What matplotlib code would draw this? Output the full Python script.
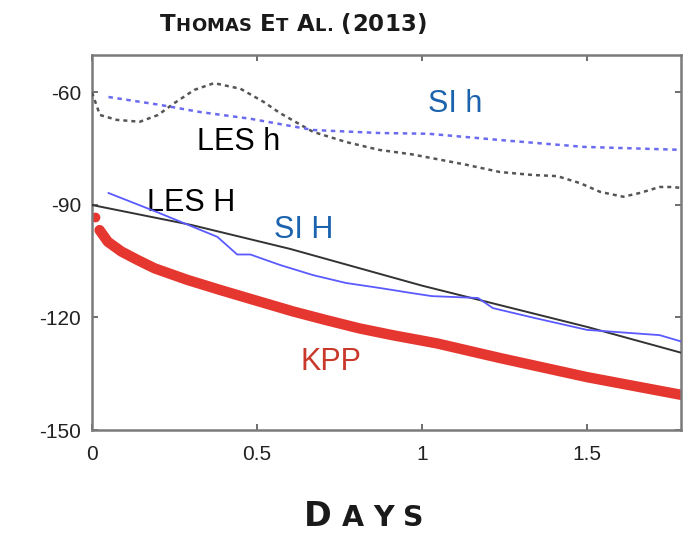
import matplotlib
matplotlib.use('Agg')
import matplotlib.pyplot as plt

# ---- data ----
les_h_x = [0, 0.024, 0.075, 0.145, 0.2, 0.25, 0.31, 0.37, 0.45, 0.52, 0.57, 0.67, 0.77, 0.87,
           0.97, 1.03, 1.136, 1.236, 1.336, 1.41, 1.48, 1.54, 1.61, 1.66, 1.72, 1.76, 1.79]
les_h_y = [-60, -66, -67.3, -67.8, -66, -62.8, -59.3, -57.5, -59, -62.5, -65.5, -70.5, -73.2, -75.3,
           -76.5, -77.5, -79.3, -81.2, -82, -82.3, -84.2, -86.5, -87.8, -86.8, -85.2, -85.2, -85.5]

si_h_x = [0.05, 0.206, 0.327, 0.48, 0.67, 0.87, 1.02, 1.24, 1.49, 1.79]
si_h_y = [-61.2, -63.3, -65.2, -67, -70, -70.8, -71, -72.7, -74.5, -75.3]

les_H_x = [0, 0.3, 0.6, 1.0, 1.5, 1.79]
les_H_y = [-90, -95.3, -101.7, -111.5, -122.5, -129.5]

si_H_x = [0.05, 0.2, 0.38, 0.44, 0.48, 0.57, 0.67, 0.77, 0.87, 0.97, 1.03, 1.17, 1.215,
          1.34, 1.5, 1.72, 1.79]
si_H_y = [-86.8, -92, -98.5, -103.2, -103.2, -106, -108.7, -110.8, -112.1, -113.5, -114.3,
          -114.8, -117.5, -120.1, -123.3, -124.7, -126.5]

kpp_x = [0.023, 0.048, 0.089, 0.139, 0.19, 0.29, 0.39, 0.49, 0.61, 0.71, 0.81, 0.91, 1.045,
         1.236, 1.5, 1.79]
kpp_y = [-96.7, -99.8, -102.4, -104.7, -106.9, -110, -112.7, -115.3, -118.4, -120.7, -122.9,
         -124.7, -126.9, -130.8, -135.9, -140.7]
kpp_first_x = [0.009]
kpp_first_y = [-93.2]

x_ticks = [0, 0.5, 1, 1.5]
x_tick_labels = ['0', '0.5', '1', '1.5']
y_ticks = [-150, -120, -90, -60]
y_tick_labels = ['-150', '-120', '-90', '-60']

W, H = 684, 534
fig = plt.figure(figsize=(W / 100, H / 100), dpi=100)
ax = fig.add_axes([92 / W, 1 - 430 / H, (681 - 92) / W, (430 - 55) / H])

ax.plot(les_h_x, les_h_y, color='#555555', lw=1.8, dashes=(1.6, 1.6), zorder=3)
ax.plot(si_h_x, si_h_y, color='#6b6bf2', lw=1.8, dashes=(1.8, 1.8), zorder=3)
ax.plot(les_H_x, les_H_y, color='#333333', lw=1.4, zorder=3)
ax.plot(si_H_x, si_H_y, color='#5a5aff', lw=1.3, zorder=4)
ax.plot(kpp_x, kpp_y, color='#e5372f', lw=7.5, solid_capstyle='round',
        solid_joinstyle='round', zorder=2)
ax.plot(kpp_first_x, kpp_first_y, 'o', color='#e5372f', ms=7, mec='none', zorder=2)

ax.set_xlim(0, 1.785)
ax.set_ylim(-150, -50)
ax.set_xticks(x_ticks)
ax.set_xticklabels(x_tick_labels)
ax.set_yticks(y_ticks)
ax.set_yticklabels(y_tick_labels)
ax.tick_params(direction='in', length=4, width=1.2, color='#555555',
               top=True, right=True, labelsize=15, labelcolor='#222222')
ax.tick_params(axis='x', pad=11)
ax.tick_params(axis='y', pad=8)
for lab in ax.get_xticklabels() + ax.get_yticklabels():
    lab.set_family('Liberation Sans')
for s in ax.spines.values():
    s.set_color('#7a7a7a')
    s.set_linewidth(1.8)

lab_kw = dict(family='Liberation Sans', fontsize=22, va='baseline', ha='left')
ax.text(1.018, -65.2, 'SI h', color='#1c63ad', **lab_kw)
ax.text(0.318, -75.3, 'LES h', color='black', **lab_kw)
ax.text(0.167, -91.6, 'LES H', color='black', **lab_kw)
ax.text(0.552, -98.8, 'SI H', color='#1c63ad', **lab_kw)
ax.text(0.633, -134.0, 'KPP', color='#c9392b', **lab_kw)


def spaced(words, left_px, right_px, base_px):
    """words: list of lists of (char, fontsize); stretch to fit left..right px."""
    r = fig.canvas.get_renderer()
    objs = []
    natural = 0.0
    nch = 0
    for word in words:
        row = []
        for ch, size in word:
            t = fig.text(0, 0, ch, fontsize=size, family='DejaVu Sans', weight='bold',
                         va='baseline', ha='left', color='#1a1a1a')
            w = t.get_window_extent(renderer=r).width
            row.append((t, w))
            natural += w
            nch += 1
        objs.append(row)
    space = 8.0
    gaps = nch - 1
    track = (right_px - left_px - natural - space * (len(words) - 1)) / max(gaps, 1)
    x = left_px
    for i, row in enumerate(objs):
        for t, w in row:
            t.set_position((x / W, 1 - base_px / H))
            x += w + track
        x += space
    return objs


B, S = 16.5, 13
title = [[('T', B), ('H', S), ('O', S), ('M', S), ('A', S), ('S', S)],
         [('E', B), ('T', S)],
         [('A', B), ('L', S), ('.', S)],
         [('(', B), ('2', B), ('0', B), ('1', B), ('3', B), (')', B)]]
spaced(title, 160, 427, 31)

B2, S2 = 24, 20.5
xlabel = [[('D', B2), ('A', S2), ('Y', S2), ('S', S2)]]
spaced(xlabel, 304, 424, 526)

fig.savefig('out.png', dpi=100)
